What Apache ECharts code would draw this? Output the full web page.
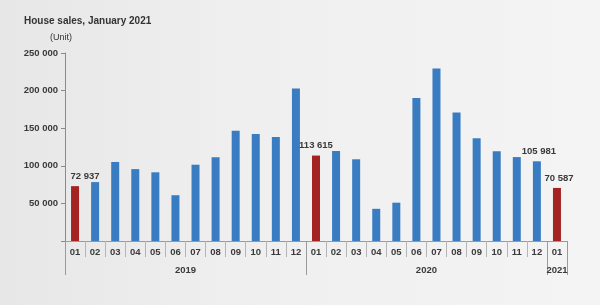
<!DOCTYPE html>
<html><head><meta charset="utf-8">
<script src="https://cdn.jsdelivr.net/npm/echarts@6/dist/echarts.min.js"></script>
<style>html,body{margin:0;padding:0;}#c{width:600px;height:305px;}</style>
</head><body><div id="c"></div>
<script>
var months = ['01','02','03','04','05','06','07','08','09','10','11','12','01','02','03','04','05','06','07','08','09','10','11','12','01'];
var sales = [72937, 78314, 105098, 95574, 91373, 60869, 101455, 111376, 146682, 142233, 138385, 202800,
             113615, 119670, 108670, 42783, 50936, 190012, 229357, 170958, 136756, 119475, 111594, 105981,
             70587];
var highlighted = [0, 12, 24];
var labelled = {0: [10, 0], 12: [0, 0], 23: [2, 0], 24: [2, 0]};
var years = ['2019', '2020', '2021'];
var yearCenters = [6, 18, 24.5];
var yearBounds = [0, 12, 24, 25];
var FONT = 'Arial, Liberation Sans, sans-serif';

function fmt(v) { return String(v).replace(/\B(?=(\d{3})+(?!\d))/g, ' '); }

var data = sales.map(function (v, i) {
  var d = { value: v, itemStyle: { color: highlighted.indexOf(i) >= 0 ? '#a52222' : '#3a7cc1' } };
  if (labelled[i]) {
    d.label = { show: true, position: 'top', distance: 5, offset: labelled[i], formatter: function (p) { return fmt(p.value); },
      color: '#3a3a3a', fontSize: 9.5, fontWeight: 'bold', fontFamily: FONT };
  }
  return d;
});

var chart = echarts.init(document.getElementById('c'));
chart.setOption({
  backgroundColor: new echarts.graphic.LinearGradient(0, 0, 1, 0, [
    { offset: 0, color: '#e7e7e7' }, { offset: 0.4, color: '#efefef' }, { offset: 1, color: '#f4f4f4' }]),
  animation: false,
  title: [
    { text: 'House sales, January 2021', left: 24, top: 16, padding: 0,
      textStyle: { fontSize: 10, fontWeight: 'bold', color: '#333', fontFamily: FONT } },
    { text: '(Unit)', left: 50, top: 33, padding: 0,
      textStyle: { fontSize: 9, fontWeight: 'normal', color: '#333', fontFamily: FONT } }
  ],
  grid: { left: 65, right: 33, top: 53, bottom: 64 },
  xAxis: [
    { type: 'category', data: months, position: 'bottom',
      axisLine: { show: true, lineStyle: { color: '#9a9a9a', width: 1 } },
      axisTick: { show: true, interval: 0, length: 16, lineStyle: { color: '#b5b5b5' } },
      axisLabel: { interval: 0, margin: 6, color: '#3a3a3a', fontSize: 9.5, fontWeight: 'bold', fontFamily: FONT } },
    { type: 'value', min: 0, max: 25, position: 'bottom', offset: 0,
      axisLine: { show: false }, splitLine: { show: false },
      axisTick: { show: true, customValues: yearBounds, length: 34, lineStyle: { color: '#9a9a9a' } },
      axisLabel: { show: true, customValues: yearCenters, margin: 24, color: '#3a3a3a', fontSize: 9.5, fontWeight: 'bold',
        fontFamily: FONT,
        formatter: function (v) { var i = yearCenters.indexOf(v); return i >= 0 ? years[i] : ''; } } }
  ],
  yAxis: {
    type: 'value', min: 0, max: 250000, interval: 50000,
    axisLine: { show: true, lineStyle: { color: '#8a8a8a' } },
    axisTick: { show: true, length: 4, lineStyle: { color: '#8a8a8a' } },
    splitLine: { show: false },
    axisLabel: { margin: 7, color: '#3a3a3a', fontSize: 9.5, fontWeight: 'bold', fontFamily: FONT,
      formatter: function (v) { return v === 0 ? '' : fmt(v); } }
  },
  series: [{ type: 'bar', xAxisIndex: 0, barWidth: 8, data: data }]
});
</script></body></html>
